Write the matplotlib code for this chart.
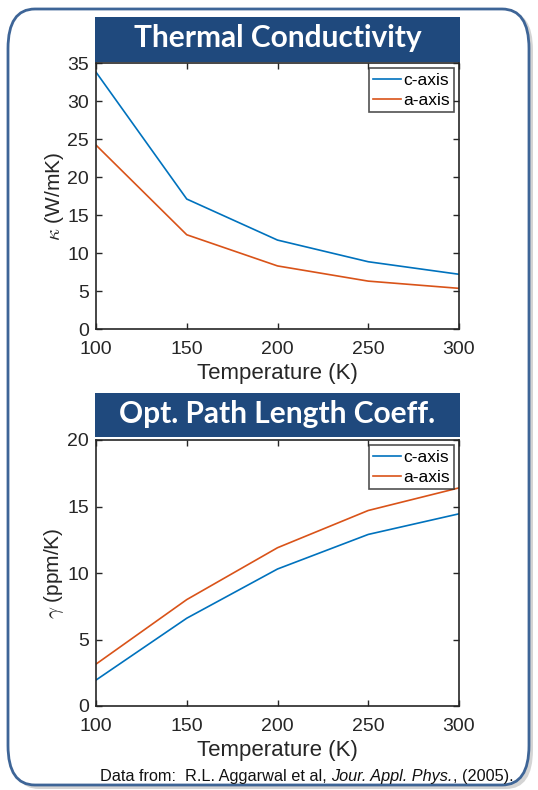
import matplotlib
matplotlib.use("Agg")
import matplotlib.pyplot as plt
from matplotlib.patches import FancyBboxPatch, Rectangle

# Temperature sweep and measured values
temps = [100, 150, 200, 250, 300]
kappa_c = [33.8, 17.1, 11.7, 8.85, 7.2]
kappa_a = [24.2, 12.4, 8.3, 6.3, 5.35]
gamma_c = [1.95, 6.6, 10.3, 12.9, 14.45]
gamma_a = [3.15, 8.0, 11.9, 14.7, 16.4]

series_labels = ["c-axis", "a-axis"]
blue = "#0072BD"
orange = "#D95319"
banner = "#1F497D"

plt.rcParams["font.family"] = ["Liberation Sans", "DejaVu Sans"]
plt.rcParams["mathtext.fontset"] = "cm"

W, H = 538, 790
fig = plt.figure(figsize=(W / 100, H / 100), dpi=100)
fig.patch.set_facecolor("white")


def px_box(x0, y0, x1, y1):
    # convert pixel box (top-left origin) to figure fraction rect
    return [x0 / W, 1 - y1 / H, (x1 - x0) / W, (y1 - y0) / H]


# rounded frame with a soft shadow
shadow = FancyBboxPatch((12 / W, 1 - 789 / H), 521 / W, 778 / H,
                        boxstyle="round,pad=0,rounding_size=0.05",
                        transform=fig.transFigure, facecolor="#b8b8b8",
                        edgecolor="none", alpha=0.6, zorder=0)
frame = FancyBboxPatch((8 / W, 1 - 785 / H), 521 / W, 776 / H,
                       boxstyle="round,pad=0,rounding_size=0.05",
                       transform=fig.transFigure, facecolor="white",
                       edgecolor="#3E6597", linewidth=2, zorder=1)
fig.patches.extend([shadow, frame])


def draw_panel(rect, title, banner_box, c_vals, a_vals, ylim, yticks, ylabel):
    bx0, by0, bx1, by1 = banner_box
    fig.patches.append(Rectangle((bx0 / W, 1 - by1 / H), (bx1 - bx0) / W,
                                 (by1 - by0) / H, transform=fig.transFigure,
                                 facecolor=banner, edgecolor="none", zorder=2))
    fig.text((bx0 + bx1) / 2 / W, 1 - (by0 + by1 - 2) / 2 / H, title,
             ha="center", va="center", color="white", fontsize=21.5,
             fontweight="bold", family=["Lato", "DejaVu Sans"], zorder=3)

    ax = fig.add_axes(px_box(*rect))
    ax.set_zorder(4)
    ax.plot(temps, c_vals, color=blue, lw=1.2, label=series_labels[0])
    ax.plot(temps, a_vals, color=orange, lw=1.2, label=series_labels[1])
    ax.set_xlim(100, 300)
    ax.set_ylim(*ylim)
    ax.set_xticks(temps)
    ax.set_yticks(yticks)
    ax.tick_params(direction="in", top=True, right=True, length=4,
                   width=1, labelsize=14, colors="#262626")
    ax.tick_params(axis="x", pad=8.5)
    ax.tick_params(axis="y", pad=5)
    for s in ax.spines.values():
        s.set_color("#262626")
        s.set_linewidth(1.2)
    ax.set_xlabel("Temperature (K)", fontsize=16, color="#262626", labelpad=4)
    ax.set_ylabel(ylabel, fontsize=15, color="#262626", labelpad=1)
    leg = ax.legend(loc="upper right", fontsize=12.5, frameon=True, fancybox=False,
                    edgecolor="#262626", handlelength=1.6, handletextpad=0.1,
                    borderpad=0.25, labelspacing=0.3, borderaxespad=0.3)
    leg.get_frame().set_linewidth(1.2)
    return ax


draw_panel((96, 63, 459, 329), "Thermal Conductivity", (95, 17, 460, 62),
           kappa_c, kappa_a, (0, 35), range(0, 36, 5), r"$\kappa$ (W/mK)")
draw_panel((96, 440, 459, 706), "Opt. Path Length Coeff.", (95, 393, 460, 437),
           gamma_c, gamma_a, (0, 20), range(0, 21, 5), r"$\gamma$ (ppm/K)")

# citation line with an italic journal name
parts = [("Data from:  R.L. Aggarwal et al, ", "normal"),
         ("Jour. Appl. Phys.", "italic"),
         (", (2005).", "normal")]
renderer = fig.canvas.get_renderer()
x = 100 / W
for txt, style in parts:
    t = fig.text(x, 1 - 777 / H, txt, fontsize=11.7, style=style,
                 va="center", ha="left", color="#111111", zorder=5)
    bb = t.get_window_extent(renderer=renderer)
    x = bb.x1 / W

fig.savefig("out.png", dpi=100)
